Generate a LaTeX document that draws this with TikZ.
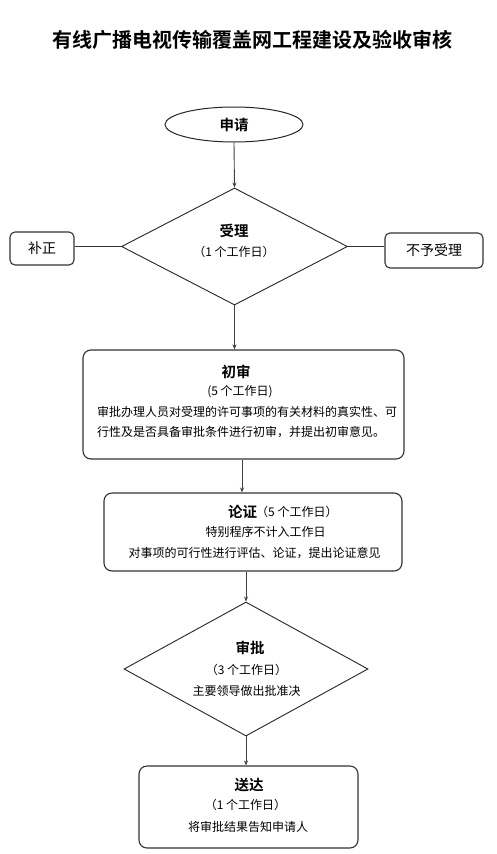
\documentclass[tikz,border=0pt]{standalone}
\usepackage{fontspec}
\setmainfont{Noto Sans CJK SC}[BoldFont={Noto Sans CJK SC Bold}]
\usetikzlibrary{shapes.geometric,arrows.meta}
\begin{document}
\begin{tikzpicture}[x=1pt,y=-1pt,
  box/.style={draw=black!80,line width=1.1pt,rounded corners=8pt,inner sep=0pt},
  sbox/.style={draw=black!80,line width=1.1pt,rounded corners=5pt,inner sep=0pt,font=\fontsize{14}{16}\selectfont},
  dia/.style={draw=black!85,line width=0.9pt,diamond,inner sep=0pt},
  ttl/.style={font=\fontsize{14.5}{16}\selectfont\bfseries,inner sep=0pt},
  txt/.style={font=\fontsize{12}{14}\selectfont,inner sep=0pt},
  arr/.style={draw=black!75,line width=0.9pt,-{Stealth[length=5pt,width=4pt]}},
  ln/.style={draw=black!80,line width=0.9pt}]
\useasboundingbox (0,0) rectangle (496,854);
\fill[white] (0,0) rectangle (496,854);
% title
\node[font=\fontsize{20}{22}\selectfont\bfseries,inner sep=0pt] (title) at (252,40) {有线广播电视传输覆盖网工程建设及验收审核};
% apply
\node[draw=black!85,line width=1pt,ellipse,minimum width=138pt,minimum height=35pt,inner sep=0pt,font=\fontsize{14.5}{16}\selectfont\bfseries] (apply) at (234,124.5) {申请};
% accept diamond
\node[dia,minimum width=226pt,minimum height=117pt] (accept) at (234.5,246.5) {};
\node[ttl] (acceptT) at (234,231) {受理};
\node[txt] (acceptD) at (234,252) {（1 个工作日）};
% side boxes
\node[sbox,minimum width=64pt,minimum height=33pt] (fix) at (42,248.5) {补正};
\node[sbox,minimum width=98pt,minimum height=35pt] (reject) at (434,250.5) {不予受理};
\draw[ln] (accept.west) -- (accept.west -| fix.east);
\draw[ln] (accept.east) -- (accept.east -| reject.west);
% first review
\node[box,minimum width=321pt,minimum height=109pt] (first) at (243.5,404.5) {};
\node[ttl] (firstT) at (236,372) {初审};
\node[txt] (firstD) at (240,392) {(5 个工作日)};
\node[txt,anchor=west] (firstL1) at (97,412) {审批办理人员对受理的许可事项的有关材料的真实性、可};
\node[txt,anchor=west] (firstL2) at (97,432) {行性及是否具备审批条件进行初审，并提出初审意见。};
% argumentation
\node[box,minimum width=298pt,minimum height=78pt] (argue) at (253,532) {};
\node[ttl,anchor=west] (argueT) at (228,512) {论证};
\node[txt,anchor=west] (argueD) at (256,512) {（5 个工作日）};
\node[txt] (argueL1) at (265.5,532) {特别程序不计入工作日};
\node[txt] (argueL2) at (254.5,553) {对事项的可行性进行评估、论证，提出论证意见};
% approval diamond
\node[dia,minimum width=244pt,minimum height=134pt] (approve) at (246,669) {};
\node[ttl] (approveT) at (250,648) {审批};
\node[txt] (approveD) at (246.5,670) {（3 个工作日）};
\node[txt] (approveL) at (246.5,691) {主要领导做出批准决};
% delivery
\node[box,minimum width=219pt,minimum height=82pt] (deliver) at (248.5,807) {};
\node[ttl] (deliverT) at (249,785) {送达};
\node[txt] (deliverD) at (245.5,805) {（1 个工作日）};
\node[txt] (deliverL) at (248,827) {将审批结果告知申请人};
% connectors
\coordinate (x1) at (234,0);
\coordinate (x2) at (234.5,0);
\coordinate (x3) at (242,0);
\coordinate (x4) at (246,0);
\draw[arr] (apply.south) -- (accept.north);
\draw[arr] (accept.south) -- (x2 |- first.north);
\draw[arr] (x3 |- first.south) -- (x3 |- argue.north);
\draw[arr] (x4 |- argue.south) -- (approve.north);
\draw[arr] (approve.south) -- (x4 |- deliver.north);
\end{tikzpicture}
\end{document}
